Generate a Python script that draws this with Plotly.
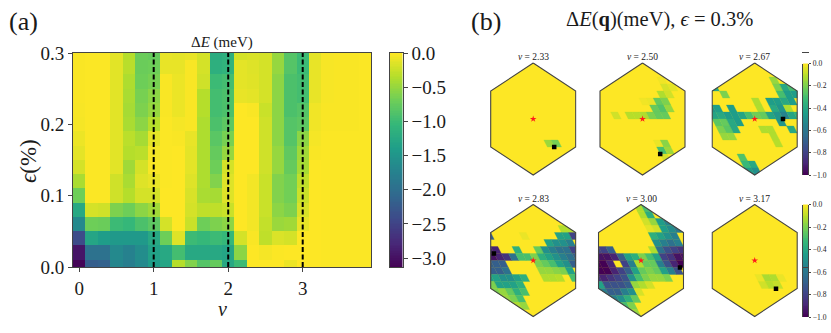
import plotly.graph_objects as go
from plotly.colors import sample_colorscale

W, H = 831, 333

# ---- (a) main map: one list per nu column, from epsilon = 0 upward in steps of 0.02
eps_values = [round(i * 0.02, 2) for i in range(16)]
nu_values = [k / 6 for k in range(24)]
c00 = [-3.1, -2.95, -2.4, -1.65, -1.25, -.7, -.4, -.2, -.12, -.08, -.04, -.03, -.02, -.02, -.02, -.02]
c01 = [-2.2, -1.95, -1.3, -.7, -.2, -.01, -.01, -.01, -.01, -.01, -.01, -.01, -.01, -.01, -.01, -.01]
c02 = [-2.15, -1.95, -1.4, -.72, -.22, -.01, -.01, -.01, -.01, -.01, -.01, -.01, -.01, -.01, -.01, -.01]
c03 = [-1.7, -1.65, -1.45, -1.0, -.62, -.22, -.22, -.13, -.13, -.13, -.13, -.13, -.13, -.13, -.13, -.12]
c04 = [-1.8, -1.75, -1.45, -1.05, -.7, -.35, -.4, -.45, -.35, -.32, -.4, -.42, -.4, -.38, -.33, -.35]
c05 = [-1.65, -1.6, -1.45, -.9, -.55, -.2, -.15, -.2, -.32, -.42, -.55, -.62, -.65, -.7, -.72, -.72]
c06 = [-1.4, -1.35, -1.25, -.8, -.45, -.2, -.1, -.02, -.05, -.12, -.35, -.5, -.55, -.65, -.7, -.75]
c07 = [-1.3, -1.25, -.7, -.2, 0, 0, -.01, -.01, -.01, -.01, -.01, -.02, -.02, -.02, -.1, -.1]
c08 = [-.35, -.95, -.15, 0, 0, 0, 0, 0, 0, -.02, -.04, -.08, -.08, -.08, -.1, -.12]
c09 = [-.6, -1.25, -1.0, -.25, -.2, -.18, -.15, -.12, -.12, -.1, -.02, -.02, -.02, -.02, -.02, -.1]
c10 = [-.85, -1.25, -1.05, -.7, -.3, -.4, -.38, -.38, -.38, -.38, -.38, -.35, -.35, -.22, -.2, -.2]
c11 = [-.75, -1.25, -1.0, -.62, -.3, -.42, -.6, -.7, -.75, -.82, -.9, -.95, -.95, -1.0, -1.15, -1.2]
c12 = [-1.25, -1.3, -1.05, -.55, -.25, -.15, -.15, -.2, -.5, -.65, -.8, -.9, -.9, -.95, -1.1, -1.15]
c13 = [-1.0, -.55, -.2, 0, 0, 0, 0, 0, 0, 0, 0, 0, -.1, -.12, -.12, -.2]
c14 = [0, 0, -.02, -.05, -.05, -.05, -.05, 0, 0, 0, 0, -.02, -.12, -.14, -.15, -.18]
c15 = [0, -.04, -.3, -.28, -.25, -.25, -.25, -.22, -.22, -.22, -.22, -.25, -.2, -.2, -.2, -.2]
c16 = [0, -.01, -.17, -.48, -.55, -.6, -.6, -.5, -.5, -.55, -.55, -.55, -.55, -.55, -.5, -.5]
c17 = [-.08, 0, -.2, -.45, -.62, -.68, -.68, -.75, -.78, -.85, -.85, -.9, -.9, -.9, -.85, -.85]
c18 = [0, 0, 0, -.1, -.18, -.25, -.3, -.42, -.45, -.55, -.8, -.85, -.95, -.95, -1.0, -1.0]
c19 = [0, 0, 0, 0, 0, 0, 0, 0, -.02, -.04, -.06, -.06, -.1, -.1, -.1, -.12]
c20 = [-.01, -.01, -.01, -.01, -.01, -.01, -.01, -.01, -.01, -.01, -.02, -.02, -.03, -.03, -.03, -.03]
c21 = [-.01, -.01, -.01, -.01, -.01, -.01, -.01, -.01, -.01, -.01, -.02, -.02, -.02, -.02, -.02, -.02]
c22 = [-.01, -.01, -.01, -.01, -.01, -.01, -.01, -.01, -.01, -.01, -.02, -.02, -.02, -.02, -.02, -.02]
c23 = [-.01, -.01, -.01, -.01, -.01, -.01, -.01, -.01, -.01, -.01, -.01, -.01, -.01, -.01, -.01, -.01]
columns = [c00, c01, c02, c03, c04, c05, c06, c07, c08, c09, c10, c11,
           c12, c13, c14, c15, c16, c17, c18, c19, c20, c21, c22, c23]
dashed_nu = [1, 2, 3]
main_xticks = [0, 1, 2, 3]
main_yticks = [0.0, 0.1, 0.2, 0.3]
main_cbar_ticks = [0.0, -0.5, -1.0, -1.5, -2.0, -2.5, -3.0]
small_cbar_ticks = [0.0, -0.2, -0.4, -0.6, -0.8, -1.0]

# ---- (b) q-maps: strips of (lattice row, first lattice column, values)
cells_233 = [(-4, 0, [-.15, -.21])]
cells_250 = [
    (5, 5, [-.02]), (4, 5, [-.06, -.04]), (3, 4, [-.12, -.07]),
    (2, 1, [-.02, -.03, -.24, -.2]), (1, 2, [-.24, -.28, -.16]),
    (0, -4, [-.07]), (0, -2, [-.11, -.11, -.12, -.2, -.24, -.24]),
    (-4, 0, [-.03, -.18]), (-5, 0, [-.3, -.15]), (-6, 0, [-.06]),
]
cells_267 = [
    (5, 5, [-.16]), (4, -4, [-.4]), (4, 5, [-.2, -.4, -.3]),
    (3, -3, [-.2]), (3, 5, [-.3, -.45, -.45]),
    (2, 1, [-.12]), (2, 3, [-.45, -.45, -.4, -.45]),
    (1, -6, [-.48, -.45]), (1, -3, [-.45]), (1, 1, [-.12]), (1, 3, [-.4, -.48, -.12]),
    (0, -6, [-.42, -.4, -.45, -.45, -.42, -.3, -.22, -.24, -.42, -.48, -.55, -.42, -.36]),
    (-1, -6, [-.26, -.24, -.4, -.45]), (-1, 3, [-.48]),
    (-2, -6, [-.2, -.26, -.4]), (-2, 0, [-.12, -.12]), (-2, 4, [-.4]),
    (-3, -6, [-.16, -.16]), (-3, 1, [-.12]), (-4, 1, [-.11]),
    (-6, -5, [-.28]), (-7, -5, [-.33, -.4]), (-8, -5, [-.45, -.5]),
]
cells_283 = [
    (4, 6, [-.12, -.12]),
    (3, -5, [-.7]), (3, 0, [-.03]), (3, 5, [-.43, -.43, -.8]),
    (2, 3, [-.43, -.5, -.5, -.57]),
    (1, -6, [-.9, -.9]), (1, -2, [-.37]), (1, 1, [-.24, -.5, -.57, -.63, -.63, -.8]),
    (0, -6, [-.95, -.9, -.85, -.63, -.3, -.3, -.2, -.37, -.43, -.5, -.57, -.63, -.7]),
    (-1, -7, [-.7, -.7, -.7]), (-1, 0, [-.2, -.24, -.3, -.43, -.5, -.7]),
    (-2, -7, [-.7, -.7, -.63]), (-2, 0, [-.16, -.16, -.18, -.2, -.43]),
    (-3, -8, [-.43, -.43, -.5, -.5, -.43, -.37]), (-3, 0, [-.12, -.12, -.11]), (-3, 4, [-.3]),
    (-4, -8, [-.2, -.43, -.43, -.43, -.37]),
    (-5, -8, [-.2, -.16, -.24, -.37, -.3]),
    (-6, -7, [-.16, -.2, -.3]),
    (-7, -6, [-.12, -.16]),
]
cells_300 = [
    (7, 3, [-.12, -.3]),
    (6, 3, [-.12, -.38]),
    (5, 3, [-.07, -.16, -.45, -.55]),
    (4, 3, [-.04, -.07, -.45, -.52, -.6]),
    (3, 3, [-.37, -.43, -.5, -.57]),
    (2, 3, [-.5, -.57, -.63, -.57]),
    (1, -6, [-.8, -.8, -.7]), (1, 2, [-.12, -.63, -.75, -.8, -.85]),
    (0, -6, [-.95, -.95, -.9, -.7, -.43, -.37, -.2, -.3, -.43, -.8, -.85, -.95, -.95]),
    (-1, -7, [-1.0, -1.0, -.9]), (-1, -3, [-.8, -.57, -.12, -.24, -.24, -.57, -.75, -.9, -1.0]),
    (-2, -7, [-1.0, -1.0, -.9, -.8, -.7, -.43, -.24, -.2, -.24, -.43, -.57, -.75]),
    (-3, -8, [-.85, -.9, -.85, -.8, -.75, -.5, -.3, -.2, -.16, -.16, -.2]),
    (-4, -8, [-.43, -.75, -.75, -.75, -.7, -.16, -.12, -.07]),
    (-5, -8, [-.57, -.7, -.7, -.57, -.5, -.06]),
    (-6, -8, [-.5, -.57, -.5, -.37, -.24]),
    (-7, -8, [-.5, -.43, -.3, -.2]),
    (-8, -7, [-.5, -.37, -.16]),
]
cells_317 = [(-3, -1, [-.03, -.13, -.12, -.03]), (-4, -1, [-.07, -.11, -.09])]

panel_labels = ["2.33", "2.50", "2.67", "2.83", "3.00", "3.17"]
panel_cells = [cells_233, cells_250, cells_267, cells_283, cells_300, cells_317]
min_q_x = [21.0, 17.7, 28.3, -39.3, 39.0, 21.3]
min_q_y = [-28.0, -35.0, 0.0, 7.0, -7.0, -28.3]
panel_cx = [533.2, 642.5, 754.7, 533.2, 641.0, 754.7]
panel_cy = [119.0, 119.0, 119.0, 260.5, 260.5, 260.5]

FONT = "Liberation Serif"
INK = "#1a1a1a"
EDGE = "#444444"
HX, HY = 42.5, 56.0
DX, DY = 85.0 / 12, 7.0
HEX = [(0, HY), (HX, HY / 2), (HX, -HY / 2), (0, -HY), (-HX, -HY / 2), (-HX, HY / 2)]


def clip_to_hex(poly):
    """Sutherland-Hodgman clip of a cell against the (clockwise) hexagon."""
    out = poly
    for i in range(6):
        ax, ay = HEX[i]
        bx, by = HEX[(i + 1) % 6]
        side = lambda p: (bx - ax) * (p[1] - ay) - (by - ay) * (p[0] - ax)
        src, out = out, []
        for k, p in enumerate(src):
            q = src[(k + 1) % len(src)]
            sp, sq = side(p), side(q)
            if sp <= 0:
                out.append(p)
            if sp * sq < 0:
                t = sp / (sp - sq)
                out.append((p[0] + t * (q[0] - p[0]), p[1] + t * (q[1] - p[1])))
        if not out:
            return []
    return out


def cell_polygon(row, col):
    x0 = (col - row / 2) * DX
    x1 = (col - (row + 1) / 2) * DX
    y0, y1 = row * DY, (row + 1) * DY
    return [(x0, y0), (x0 + DX, y0), (x1 + DX, y1), (x1, y1)]


def viridis(v):
    return sample_colorscale("Viridis", [max(0.0, min(1.0, 1 + v))])[0]


fig = go.Figure()
ann = []
layout_axes = {}


def dom_x(a, b):
    return [a / W, b / W]


def dom_y(top, bottom):
    return [1 - bottom / H, 1 - top / H]


# main heatmap
z_rows = [[col[r] for col in columns] for r in range(len(eps_values))]
fig.add_trace(go.Heatmap(x=nu_values, y=eps_values, z=z_rows, colorscale="Viridis", zmin=-3.13, zmax=0,
                         showscale=False))
for nu in dashed_nu:
    fig.add_trace(go.Scatter(x=[nu, nu], y=[eps_values[0], 0.3], mode="lines", showlegend=False,
                             line=dict(color="black", width=2, dash="5px,2.5px")))
layout_axes["xaxis"] = dict(domain=dom_x(73, 371), range=[-1 / 12, 3.9167], tickvals=main_xticks,
                            ticktext=[str(t) for t in main_xticks], ticks="outside", ticklen=4, tickcolor=EDGE,
                            showline=True, mirror=True, linecolor=EDGE, linewidth=1, showgrid=False, zeroline=False,
                            tickfont=dict(family=FONT, size=19, color=INK))
layout_axes["yaxis"] = dict(domain=dom_y(53, 267), range=[0, 0.3], tickvals=main_yticks,
                            ticktext=[f"{t:.1f}" for t in main_yticks], ticks="outside", ticklen=4, tickcolor=EDGE,
                            showline=True, mirror=True, linecolor=EDGE, linewidth=1, showgrid=False, zeroline=False,
                            tickfont=dict(family=FONT, size=19, color=INK))

# small q-space panels
for i, label in enumerate(panel_labels):
    n = i + 2
    xa, ya = f"x{n}", f"y{n}"
    cx, cy = panel_cx[i], panel_cy[i]
    layout_axes[f"xaxis{n}"] = dict(domain=dom_x(cx - HX - 1, cx + HX + 1), range=[-HX - 1, HX + 1], visible=False)
    layout_axes[f"yaxis{n}"] = dict(domain=dom_y(cy - HY - 1, cy + HY + 1), range=[-HY - 1, HY + 1], visible=False)
    hx = [p[0] for p in HEX] + [HEX[0][0]]
    hy = [p[1] for p in HEX] + [HEX[0][1]]
    fig.add_trace(go.Scatter(x=hx, y=hy, xaxis=xa, yaxis=ya, mode="none", fill="toself",
                             fillcolor=viridis(0), showlegend=False))
    for row, first, vals in panel_cells[i]:
        for k, v in enumerate(vals):
            poly = clip_to_hex(cell_polygon(row, first + k))
            if len(poly) < 3:
                continue
            fig.add_trace(go.Scatter(x=[p[0] for p in poly] + [poly[0][0]], y=[p[1] for p in poly] + [poly[0][1]],
                                     xaxis=xa, yaxis=ya, mode="lines", fill="toself",
                                     line=dict(color=viridis(v), width=0.3), fillcolor=viridis(v), showlegend=False))
    fig.add_trace(go.Scatter(x=hx, y=hy, xaxis=xa, yaxis=ya, mode="lines", line=dict(color=EDGE, width=1.1),
                             showlegend=False))
    fig.add_trace(go.Scatter(x=[0], y=[0], xaxis=xa, yaxis=ya, mode="markers", showlegend=False,
                             marker=dict(symbol="star", size=5, color="#ff1a1a")))
    fig.add_trace(go.Scatter(x=[min_q_x[i]], y=[min_q_y[i]], xaxis=xa, yaxis=ya, mode="markers", showlegend=False,
                             marker=dict(symbol="square", size=4.5, color="black")))
    ann.append(dict(text=f"<i>\u03bd</i> = {label}", x=cx / W, y=1 - (cy - 61.5) / H, xref="paper", yref="paper",
                    showarrow=False, xanchor="center", yanchor="middle",
                    font=dict(family=FONT, size=9.5, color=INK)))


# colour bars as narrow heatmaps on their own axes, so that nothing pushes the margins
def add_bar(n, left, right, top, bottom, zmin, tickvals, size, ticklen):
    steps = 128
    levels = [zmin * k / (steps - 1) for k in range(steps)]
    fig.add_trace(go.Heatmap(x=[0], y=levels, z=[[v] for v in levels], colorscale="Viridis", zmin=zmin, zmax=0,
                             showscale=False, xaxis=f"x{n}", yaxis=f"y{n}"))
    layout_axes[f"xaxis{n}"] = dict(domain=dom_x(left, right), range=[-0.5, 0.5], showticklabels=False, ticks="",
                                    showline=True, mirror=True, linecolor=EDGE, linewidth=1, showgrid=False,
                                    zeroline=False)
    layout_axes[f"yaxis{n}"] = dict(domain=dom_y(top, bottom), range=[zmin, 0], side="right", anchor=f"x{n}",
                                    tickvals=tickvals, ticktext=[f"{t:.1f}".replace("-", "\u2212") for t in tickvals],
                                    ticks="outside", ticklen=ticklen, tickcolor=EDGE, showline=True, mirror=True,
                                    linecolor=EDGE, linewidth=1, showgrid=False, zeroline=False,
                                    tickfont=dict(family=FONT, size=size, color=INK))


add_bar(8, 389.7, 402.7, 53, 267, -3.13, main_cbar_ticks, 19, 4)
add_bar(9, 802.7, 808.3, 63.5, 175, -1.0, small_cbar_ticks, 7.5, 2)
add_bar(10, 802.7, 808.3, 204.5, 317, -1.0, small_cbar_ticks, 7.5, 2)

texts = [
    ("(a)", 23, 21, 26, 0),
    ("(b)", 486, 21, 26, 0),
    ("\u0394<i>E</i>(<b>q</b>)(meV), <i>\u03f5</i> = 0.3%", 659, 20, 20.5, 0),
    ("\u0394<i>E</i> (meV)", 222, 43, 15, 0),
    ("<i>\u03bd</i>", 222, 309, 20, 0),
    ("<i>\u03f5</i>(%)", 28, 161, 23, -90),
]
for t, x, y, s, rot in texts:
    ann.append(dict(text=t, x=x / W, y=1 - y / H, xref="paper", yref="paper", showarrow=False, textangle=rot,
                    xanchor="center", yanchor="middle", font=dict(family=FONT, size=s, color=INK)))

fig.update_layout(width=W, height=H, margin=dict(l=0, r=0, t=0, b=0, autoexpand=False), autosize=False,
                  paper_bgcolor="white", plot_bgcolor="white", showlegend=False, annotations=ann, **layout_axes)
fig.write_html("out.html", config={"displayModeBar": False},
               post_script="document.body.style.margin='0';document.body.style.overflow='hidden';")
